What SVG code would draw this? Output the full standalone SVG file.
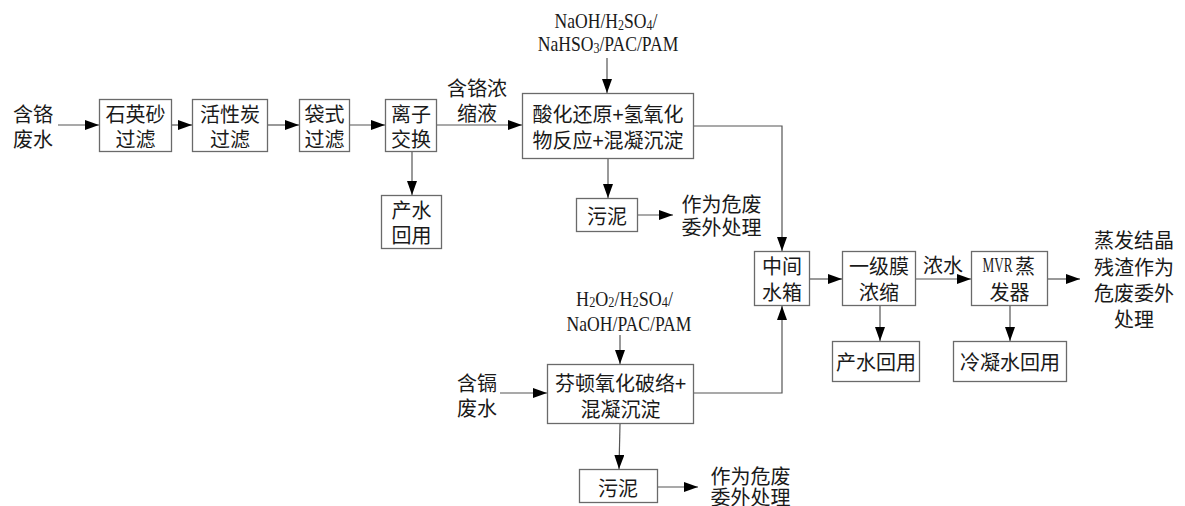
<svg xmlns="http://www.w3.org/2000/svg" width="1185" height="506" viewBox="0 0 1185 506">
<style>
.bx{fill:#fff;stroke:#6a6a6a;stroke-width:1.3}
.t{font-family:"Noto Sans CJK SC","Liberation Sans",sans-serif;font-size:20px;fill:#1a1a1a;text-anchor:middle;dominant-baseline:central}
.ch{font-family:"Liberation Serif",serif;font-size:22px;fill:#1a1a1a;text-anchor:middle;dominant-baseline:central}
.sub{font-size:15px}
.c{fill:none;stroke:#555;stroke-width:1.2}
</style>
<defs>
<marker id="ah" markerUnits="userSpaceOnUse" markerWidth="14" markerHeight="10" refX="14" refY="5" orient="auto">
<path d="M0,0 L14,5 L0,10 z" fill="#000"/>
</marker>
</defs>
<rect width="1185" height="506" fill="#fff"/>
<g id="connectors">
<path class="c" d="M58,125 H99" marker-end="url(#ah)"/>
<path class="c" d="M171,125 H192" marker-end="url(#ah)"/>
<path class="c" d="M268,125 H299" marker-end="url(#ah)"/>
<path class="c" d="M349,125 H385" marker-end="url(#ah)"/>
<path class="c" d="M437,125 H522" marker-end="url(#ah)"/>
<path class="c" d="M412,152 V195" marker-end="url(#ah)"/>
<path class="c" d="M607,58 V93" marker-end="url(#ah)"/>
<path class="c" d="M608,159 V198" marker-end="url(#ah)"/>
<path class="c" d="M638,215 H673" marker-end="url(#ah)"/>
<path class="c" d="M694,126 H782 V251" marker-end="url(#ah)"/>
<path class="c" d="M694,393 H782 V306" marker-end="url(#ah)"/>
<path class="c" d="M500,393 H547" marker-end="url(#ah)"/>
<path class="c" d="M620,335 V364" marker-end="url(#ah)"/>
<path class="c" d="M620,424 L619,469" marker-end="url(#ah)"/>
<path class="c" d="M658,487 H698" marker-end="url(#ah)"/>
<path class="c" d="M810,279 H842" marker-end="url(#ah)"/>
<path class="c" d="M916,279 H971" marker-end="url(#ah)"/>
<path class="c" d="M1048,279 H1080" marker-end="url(#ah)"/>
<path class="c" d="M880,306 V341" marker-end="url(#ah)"/>
<path class="c" d="M1010,306 V341" marker-end="url(#ah)"/>
</g>
<g id="cr-wastewater"><text class="t" x="33" y="113">含铬<tspan x="33" dy="25">废水</tspan></text></g>
<g id="quartz"><rect class="bx" x="99.5" y="99.5" width="72" height="52"/><text class="t" x="135.5" y="113">石英砂<tspan x="135.5" dy="25">过滤</tspan></text></g>
<g id="carbon"><rect class="bx" x="192.5" y="99.5" width="75" height="52"/><text class="t" x="230" y="113">活性炭<tspan x="230" dy="25">过滤</tspan></text></g>
<g id="bag"><rect class="bx" x="299.5" y="99.5" width="50" height="52"/><text class="t" x="324.5" y="113">袋式<tspan x="324.5" dy="25">过滤</tspan></text></g>
<g id="ion"><rect class="bx" x="385.5" y="99.5" width="51" height="52"/><text class="t" x="411" y="113">离子<tspan x="411" dy="25">交换</tspan></text></g>
<g id="ion-reuse"><rect class="bx" x="381.5" y="195.5" width="60" height="53"/><text class="t" x="411.5" y="209">产水<tspan x="411.5" dy="25">回用</tspan></text></g>
<g id="cr-conc-label"><text class="t" x="477" y="87">含铬浓<tspan x="477" dy="25">缩液</tspan></text></g>
<g id="reagent1">
<text class="ch" transform="translate(606,20) scale(0.8,1)" x="0" y="0">NaOH/H<tspan class="sub" dy="4">2</tspan><tspan dy="-4">SO</tspan><tspan class="sub" dy="4">4</tspan><tspan dy="-4">/</tspan></text>
<text class="ch" transform="translate(608,43) scale(0.8,1)" x="0" y="0">NaHSO<tspan class="sub" dy="4">3</tspan><tspan dy="-4">/PAC/PAM</tspan></text>
</g>
<g id="acid-reduction"><rect class="bx" x="522.5" y="93.5" width="171" height="65"/><text class="t" x="608" y="113">酸化还原+氢氧化<tspan x="608" dy="26">物反应+混凝沉淀</tspan></text></g>
<g id="sludge1"><rect class="bx" x="576.5" y="198.5" width="61" height="33"/><text class="t" x="607" y="215">污泥</text></g>
<g id="hazard1"><text class="t" x="721.5" y="203">作为危废<tspan x="721.5" dy="23">委外处理</tspan></text></g>
<g id="mid-tank"><rect class="bx" x="754.5" y="251.5" width="55" height="54"/><text class="t" x="782" y="265">中间<tspan x="782" dy="26">水箱</tspan></text></g>
<g id="membrane"><rect class="bx" x="842.5" y="251.5" width="73" height="54"/><text class="t" x="879" y="265">一级膜<tspan x="879" dy="26">浓缩</tspan></text></g>
<g id="conc-label"><text class="t" x="943" y="264">浓水</text></g>
<g id="mvr"><rect class="bx" x="971.5" y="251.5" width="76" height="54"/>
<text class="ch" transform="translate(997.5,265) scale(0.6,1)" x="0" y="0">MVR</text><text class="t" x="1025" y="265">蒸</text><text class="t" x="1009.5" y="291">发器</text></g>
<g id="crystal-residue"><text class="t" x="1134" y="239">蒸发结晶<tspan x="1134" dy="27">残渣作为</tspan><tspan x="1134" dy="26">危废委外</tspan><tspan x="1134" dy="26">处理</tspan></text></g>
<g id="membrane-reuse"><rect class="bx" x="832.5" y="341.5" width="87" height="40"/><text class="t" x="876" y="361.5">产水回用</text></g>
<g id="condensate-reuse"><rect class="bx" x="953.5" y="341.5" width="113" height="40"/><text class="t" x="1010" y="361.5">冷凝水回用</text></g>
<g id="cd-wastewater"><text class="t" x="477" y="382">含镉<tspan x="477" dy="25">废水</tspan></text></g>
<g id="reagent2">
<text class="ch" transform="translate(624.5,298) scale(0.82,1)" x="0" y="0">H<tspan class="sub" dy="4">2</tspan><tspan dy="-4">O</tspan><tspan class="sub" dy="4">2</tspan><tspan dy="-4">/H</tspan><tspan class="sub" dy="4">2</tspan><tspan dy="-4">SO</tspan><tspan class="sub" dy="4">4</tspan><tspan dy="-4">/</tspan></text>
<text class="ch" transform="translate(629,323) scale(0.8,1)" x="0" y="0">NaOH/PAC/PAM</text>
</g>
<g id="fenton"><rect class="bx" x="547.5" y="364.5" width="146" height="59"/><text class="t" x="620.5" y="382">芬顿氧化破络+<tspan x="620.5" dy="26">混凝沉淀</tspan></text></g>
<g id="sludge2"><rect class="bx" x="579.5" y="469.5" width="78" height="33"/><text class="t" x="618" y="487">污泥</text></g>
<g id="hazard2"><text class="t" x="750.5" y="475">作为危废<tspan x="750.5" dy="21">委外处理</tspan></text></g>
</svg>
